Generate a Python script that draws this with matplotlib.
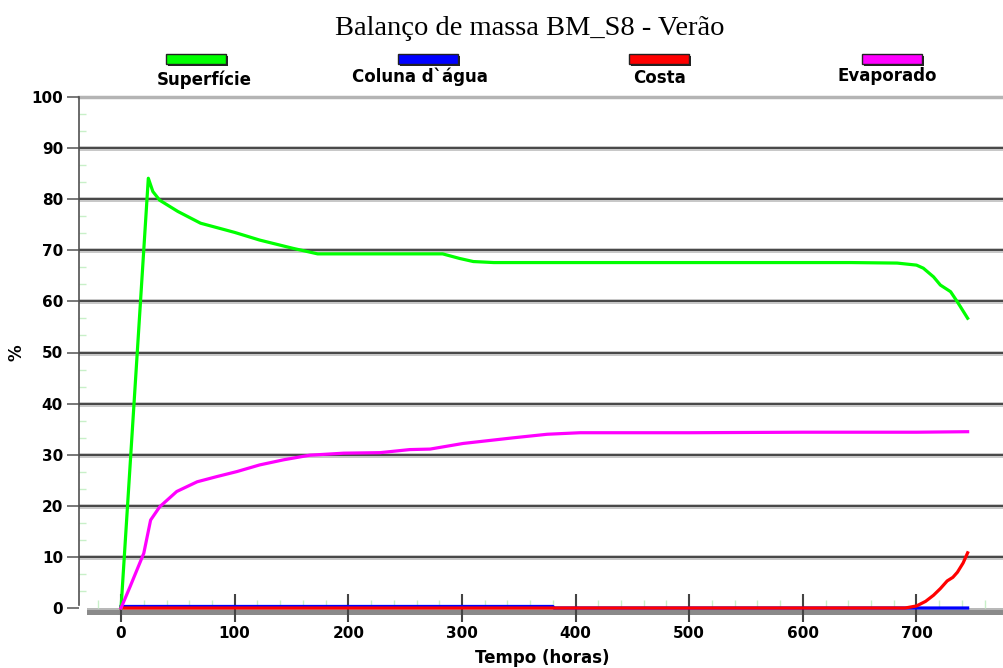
import matplotlib.pyplot as plt
from matplotlib.patches import Rectangle
from matplotlib.ticker import MultipleLocator

# Balanço de massa BM_S8 - Verão
sup_t = [0, 24, 28, 34, 50, 70, 100, 122, 151, 173, 200, 245, 283, 298, 310, 328,
         400, 500, 600, 642, 683, 700, 706, 715, 721, 730, 736, 745]
sup_v = [0, 84.1, 81.5, 79.8, 77.6, 75.3, 73.5, 72.0, 70.4, 69.3, 69.3, 69.3, 69.3,
         68.4, 67.8, 67.6, 67.6, 67.6, 67.6, 67.6, 67.5, 67.1, 66.5, 64.8, 63.2,
         61.9, 59.9, 56.7]

evap_t = [0, 8, 20, 26, 34, 49, 67, 84, 102, 122, 143, 166, 196, 228, 254, 272,
          301, 345, 375, 404, 500, 600, 700, 745]
evap_v = [0, 4.2, 10.7, 17.2, 19.8, 22.8, 24.7, 25.7, 26.7, 28.0, 29.0, 29.9, 30.3,
          30.4, 31.0, 31.1, 32.2, 33.3, 34.0, 34.3, 34.3, 34.4, 34.4, 34.5]

costa_t = [0, 380, 500, 600, 690, 700, 708, 715, 721, 727, 732, 736, 741, 745]
costa_v = [0, 0, 0, 0, 0, 0.4, 1.3, 2.5, 3.8, 5.3, 6.0, 7.0, 8.8, 10.8]

coluna_t = [0, 380, 381, 745]
coluna_v = [0.3, 0.3, 0, 0]

series = ["Superfície", "Coluna d`água", "Costa", "Evaporado"]
colors = ["#00ff00", "#0000ff", "#ff0000", "#ff00ff"]

bold = dict(family="DejaVu Sans", fontweight="bold")

fig = plt.figure(figsize=(10.04, 6.68), dpi=100)
ax = fig.add_axes([79 / 1004, 1 - 608 / 668, 1 - 79 / 1004, (608 - 97) / 668])
ax.set_xlim(-37, 777)
ax.set_ylim(0, 100)

# gridlines with a soft shadow
for y in range(10, 100, 10):
    ax.axhline(y, color="#c8c8c8", lw=3.6, zorder=1)
    ax.axhline(y, color="#3c3c3c", lw=1.3, zorder=1.1)
ax.axhline(100, color="#b4b4b4", lw=2.5, zorder=1, clip_on=False)

# grey floor under the zero line
ax.add_patch(Rectangle((-30, -1.45), 807, 1.45, facecolor="#8a8a8a",
                       edgecolor="none", clip_on=False, zorder=1))
ax.add_patch(Rectangle((-30, -0.35), 807, 0.35, facecolor="#b8b8b8",
                       edgecolor="none", clip_on=False, zorder=1.05))

ax.plot(sup_t, sup_v, color=colors[0], lw=2.3, zorder=4, clip_on=False)
ax.plot(evap_t, evap_v, color=colors[3], lw=2.3, zorder=4, clip_on=False)
ax.plot(coluna_t, coluna_v, color=colors[1], lw=2.3, zorder=3, clip_on=False)
ax.plot(costa_t, costa_v, color=colors[2], lw=2.3, zorder=3.5, clip_on=False)

for s in ["top", "right", "bottom"]:
    ax.spines[s].set_visible(False)
ax.spines["left"].set_color("#505050")
ax.spines["left"].set_linewidth(1.2)
ax.spines["left"].set_bounds(0.5, 100)

ax.set_xticks(range(0, 800, 100))
ax.set_yticks(range(0, 110, 10))
ax.xaxis.set_minor_locator(MultipleLocator(20))
ax.yaxis.set_minor_locator(MultipleLocator(10 / 3))
ax.tick_params(axis="x", which="major", direction="inout", length=20, width=1.5,
               color="#444444", pad=3, labelsize=11)
ax.tick_params(axis="x", which="minor", direction="in", length=6, width=1,
               color="#c8f0c8")
ax.tick_params(axis="y", which="major", direction="out", length=9, width=1.2,
               color="#606060", pad=2.5, labelsize=11)
ax.tick_params(axis="y", which="minor", direction="in", length=5, width=1,
               color="#c8f0c8")
for lab in ax.get_xticklabels() + ax.get_yticklabels():
    lab.set_fontweight("bold")
    lab.set_fontfamily("DejaVu Sans")

ax.set_xlabel("Tempo (horas)", fontsize=12, **bold)
ax.set_ylabel("%", fontsize=12, **bold)
ax.xaxis.set_label_coords(0.501, -0.08)
ax.yaxis.set_label_coords(-0.058, 0.5)

fig.text(0.528, 0.958, "Balanço de massa BM_S8 - Verão", ha="center", va="center",
         family="Liberation Serif", fontsize=20.5)

# legend: coloured bars with labels underneath
leg_x = [196, 428, 659, 892]
lab_x = [204, 420, 660, 887]
lab_y = [80, 77, 78, 76]
for name, c, px, lx, ly in zip(series, colors, leg_x, lab_x, lab_y):
    w, h = 60 / 1004, 10 / 668
    x0, y0 = px / 1004 - w / 2, 1 - 64 / 668
    fig.patches.append(Rectangle((x0 + 2 / 1004, y0 - 2 / 668), w, h,
                                 transform=fig.transFigure, facecolor="#222222",
                                 edgecolor="none"))
    fig.patches.append(Rectangle((x0, y0), w, h, transform=fig.transFigure,
                                 facecolor=c, edgecolor="#222222", lw=1))
    fig.text(lx / 1004, 1 - ly / 668, name, ha="center", va="center",
             fontsize=12, **bold)

fig.savefig("out.png", dpi=100)
